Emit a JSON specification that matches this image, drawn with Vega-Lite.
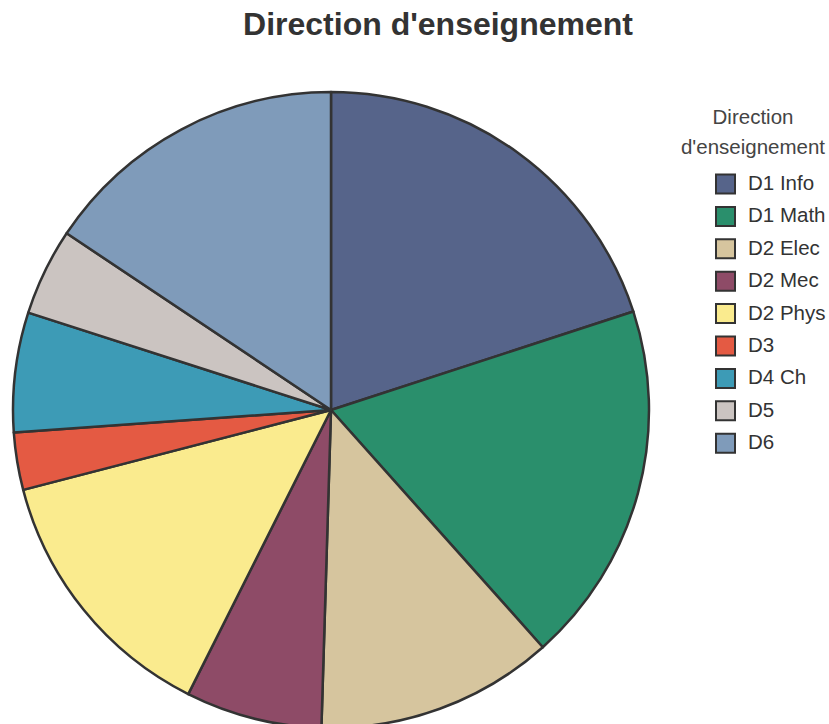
{
  "$schema": "https://vega.github.io/schema/vega-lite/v6.json",
  "autosize": "none",
  "padding": {"left": 0, "top": 92, "right": 167, "bottom": 0},
  "width": 662,
  "height": 636,
  "background": "white",
  "title": {
    "text": "Direction d'enseignement",
    "fontSize": 32,
    "fontWeight": "bold",
    "font": "Liberation Sans",
    "color": "#333333",
    "anchor": "middle",
    "frame": "group",
    "dx": 107,
    "offset": 49
  },
  "data": {
    "values": [
      {"direction": "D1 Info", "part": 19.99},
      {"direction": "D1 Math", "part": 18.41},
      {"direction": "D2 Elec", "part": 12.08},
      {"direction": "D2 Mec", "part": 6.93},
      {"direction": "D2 Phys", "part": 13.55},
      {"direction": "D3", "part": 2.91},
      {"direction": "D4 Ch", "part": 6.08},
      {"direction": "D5", "part": 4.43},
      {"direction": "D6", "part": 15.62}
    ]
  },
  "mark": {"type": "arc", "stroke": "#333333", "strokeWidth": 2.5, "strokeJoin": "round"},
  "encoding": {
    "theta": {"field": "part", "type": "quantitative", "stack": true},
    "color": {
      "field": "direction",
      "type": "nominal",
      "title": ["Direction", "d'enseignement"],
      "scale": {
        "domain": ["D1 Info", "D1 Math", "D2 Elec", "D2 Mec", "D2 Phys", "D3", "D4 Ch", "D5", "D6"],
        "range": ["#56648a", "#2a8f6c", "#d6c59e", "#8e4b67", "#faeb8e", "#e45a43", "#3d9bb6", "#cbc4c1", "#7f9bba"]
      },
      "legend": {
        "orient": "none",
        "legendX": 680,
        "legendY": 16,
        "padding": 0,
        "titleFont": "Liberation Sans",
        "titleFontSize": 20.5,
        "titleFontWeight": "normal",
        "titleColor": "#444444",
        "titleAlign": "center",
        "titleAnchor": "middle",
        "titleLineHeight": 30,
        "titlePadding": 15,
        "titleLimit": 300,
        "labelFont": "Liberation Sans",
        "labelFontSize": 20.5,
        "labelColor": "#333333",
        "labelLimit": 200,
        "symbolType": "square",
        "symbolSize": 361,
        "symbolStrokeColor": "#333333",
        "symbolStrokeWidth": 2,
        "symbolOpacity": 1,
        "symbolOffset": 35,
        "labelOffset": 12,
        "rowPadding": 5.4
      }
    },
    "order": {"field": "direction", "sort": "ascending"}
  },
  "config": {"view": {"stroke": null}}
}
